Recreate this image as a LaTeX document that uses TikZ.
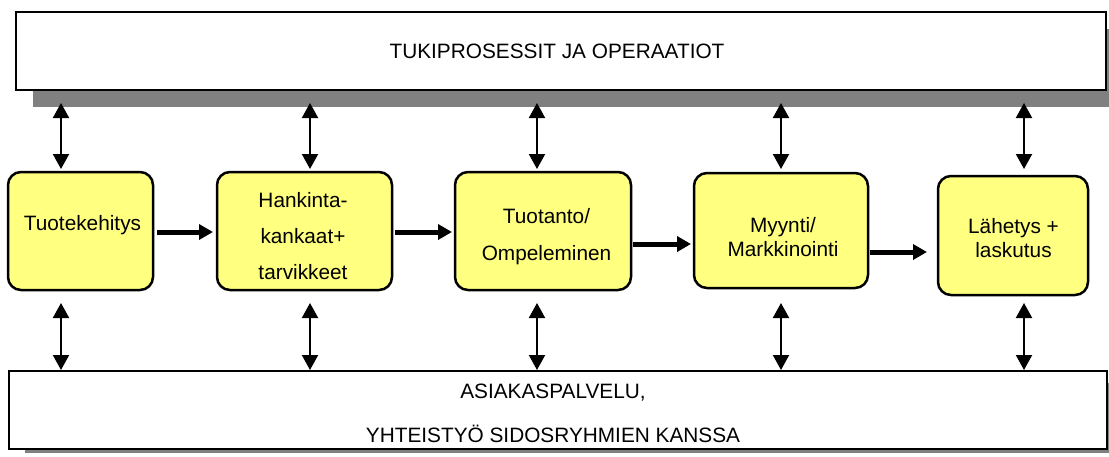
\documentclass[tikz,border=0pt]{standalone}
\usepackage{fontspec}
\setmainfont{Liberation Sans}
\usetikzlibrary{arrows.meta}
\definecolor{stageyellow}{RGB}{255,255,128}
\definecolor{shadowgray}{RGB}{128,128,128}

\begin{document}
\begin{tikzpicture}[x=1pt,y=-1pt,
  band/.style={draw, line width=2.5pt, fill=white, minimum height=78pt, inner sep=0pt, outer sep=0pt},
  stage/.style={draw, line width=2.5pt, fill=stageyellow, rounded corners=13pt, inner sep=0pt, outer sep=0pt},
  lbl/.style={font=\fontsize{20.8}{#1}\selectfont, align=center, anchor=base, inner sep=0pt},
  lbl/.default=24,
  link/.style={line width=2pt, {Triangle[width=16pt,length=15pt]}-{Triangle[width=16pt,length=15pt]}},
  flow/.style={line width=5pt, -{Triangle[width=15pt,length=14pt]}}]

\useasboundingbox[fill=white] (0,0) rectangle (1109,456);

% drop shadows of the two bands
\fill[shadowgray] (33,29) rectangle (1109,107);
\fill[shadowgray] (25,383) rectangle (1109,453);

% support band (top) and customer band (bottom)
\node[band, minimum width=1090pt] (top) at (561,51) {};
\node[band, minimum width=1098pt] (bot) at (558,410) {};
% multi-line labels are placed by the baseline of their last line
\node[lbl] (toptxt) at (557,58) {TUKIPROSESSIT JA OPERAATIOT};
\node[lbl=44] (bottxt) at (553,442) {ASIAKASPALVELU,\\YHTEISTYÖ SIDOSRYHMIEN KANSSA};

% process stages
\node[stage, minimum width=145pt, minimum height=118pt] (b1) at (80.5,231) {};
\node[stage, minimum width=175pt, minimum height=118pt] (b2) at (304.5,231) {};
\node[stage, minimum width=176pt, minimum height=118pt] (b3) at (543,231) {};
\node[stage, minimum width=174pt, minimum height=115pt] (b4) at (781,230.5) {};
\node[stage, minimum width=150pt, minimum height=119pt] (b5) at (1013,235.5) {};

\node[lbl] (t1) at (82.5,230) {Tuotekehitys};
\node[lbl=36] (t2) at (303,279) {Hankinta-\\kankaat+\\tarvikkeet};
\node[lbl=37] (t3) at (546.5,260) {Tuotanto/\\Ompeleminen};
\node[lbl] (t4) at (783,256) {Myynti/\\Markkinointi};
\node[lbl] (t5) at (1013.5,257) {Lähetys +\\laskutus};

% flow between stages
\draw[flow] ([xshift=4pt,yshift=-1pt]b1.east) -- ([xshift=-4pt,yshift=-1pt]b1.east -| b2.west);
\draw[flow] ([xshift=3pt,yshift=-1pt]b2.east) -- ([xshift=-3pt,yshift=-1pt]b2.east -| b3.west);
\draw[flow] ([xshift=2pt,yshift=-13pt]b3.east) -- ([xshift=-3pt,yshift=-13pt]b3.east -| b4.west);
\draw[flow] ([xshift=2pt,yshift=-21.5pt]b4.east) -- ([xshift=-11pt,yshift=-21.5pt]b4.east -| b5.west);

% links to the bands
\coordinate (v1) at (61,0);
\coordinate (v2) at (310,0);
\coordinate (v3) at (537,0);
\coordinate (v4) at (781,0);
\coordinate (v5) at (1024,0);

\draw[link] ([yshift=-13pt]top.south -| v1) -- ([yshift=3pt]b1.north -| v1);
\draw[link] ([yshift=-13pt]top.south -| v2) -- ([yshift=3pt]b2.north -| v2);
\draw[link] ([yshift=-13pt]top.south -| v3) -- ([yshift=3pt]b3.north -| v3);
\draw[link] ([yshift=-13pt]top.south -| v4) -- ([yshift=4pt]b4.north -| v4);
\draw[link] ([yshift=-13pt]top.south -| v5) -- ([yshift=7pt]b5.north -| v5);

\draw[link] ([yshift=-13pt]b1.south -| v1) -- ([yshift=1pt]bot.north -| v1);
\draw[link] ([yshift=-13pt]b2.south -| v2) -- ([yshift=1pt]bot.north -| v2);
\draw[link] ([yshift=-13pt]b3.south -| v3) -- ([yshift=1pt]bot.north -| v3);
\draw[link] ([yshift=-15pt]b4.south -| v4) -- ([yshift=1pt]bot.north -| v4);
\draw[link] ([yshift=-8pt]b5.south -| v5) -- ([yshift=1pt]bot.north -| v5);
\end{tikzpicture}
\end{document}
